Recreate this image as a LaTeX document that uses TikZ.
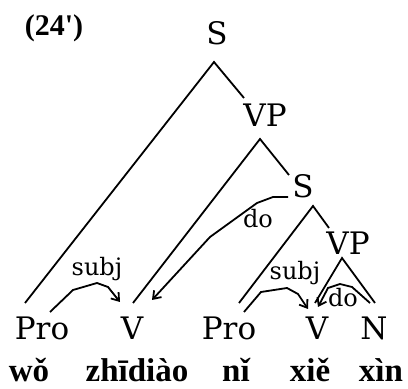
\documentclass[tikz,border=0pt]{standalone}
\usepackage{fontspec}
\setmainfont{DejaVu Serif}
\newfontfamily\pyfont{Liberation Serif}
\usetikzlibrary{arrows.meta}
\tikzset{
  every picture/.style={line width=1.8pt},
  cat/.style={font=\fontsize{31}{34}\selectfont, anchor=base, inner sep=0pt},
  rel/.style={font=\fontsize{24}{27}\selectfont, anchor=base, inner sep=0pt},
  py/.style={font=\pyfont\bfseries\fontsize{33}{36}\selectfont, anchor=base, inner sep=0pt},
  arr/.style={-{Straight Barb[length=7pt, width=10pt]}},
}

\begin{document}
\begin{tikzpicture}[x=1pt, y=1pt]
  \useasboundingbox (0,0) rectangle (408,389);
  \node[anchor=base, inner sep=0pt, font=\pyfont\bfseries\fontsize{30}{32}\selectfont] (num) at (54,353) {(24\textquotesingle)};
  % categories
  \node[cat] (s0) at (217,344) {S};
  \node[cat] (vp1) at (265,262) {VP};
  \node[cat] (s1) at (303,191) {S};
  \node[cat] (vp2) at (348,134) {VP};
  \node[cat] (pro1) at (42,49) {Pro};
  \node[cat] (v1) at (132,49) {V};
  \node[cat] (pro2) at (229,49) {Pro};
  \node[cat] (v2) at (317,49) {V};
  \node[cat] (n) at (374,49) {N};
  % words
  \node[py] (wo) at (29,7) {wǒ};
  \node[py] (zhidiao) at (137,7) {zhīdiào};
  \node[py] (ni) at (236,7) {nǐ};
  \node[py] (xie) at (310,7) {xiě};
  \node[py] (xin) at (381,7) {xìn};
  % branches
  \draw ([shift={(-17,37)}]pro1.base) -- ([shift={(-3,-17)}]s0.base) -- ([shift={(-21,29)}]vp1.base);
  \draw ([shift={(1,37)}]v1.base) -- ([shift={(-5,-12)}]vp1.base) -- ([shift={(-14,23)}]s1.base);
  \draw ([shift={(10,37)}]pro2.base) -- ([shift={(10,-8)}]s1.base) -- ([shift={(-19,27)}]vp2.base);
  \draw ([shift={(-2,37)}]v2.base) -- ([shift={(-6,-3)}]vp2.base) -- ([shift={(1,37)}]n.base);
  % relations
  \draw[arr] ([shift={(8,28)}]pro1.base) -- ++(23,22) -- ++(24,7) -- ++(11,-4) -- ([shift={(-12,38)}]v1.base);
  \node[rel] (subj1) at (97,113) {subj};
  \draw[arr] ([shift={(-15,1)}]s1.base) -- ++(-15,0) -- ++(-16,-6) -- ++(-47,-34) -- ([shift={(20,40)}]v1.base);
  \node[rel] (do1) at (258,161) {do};
  \draw[arr] ([shift={(15,28)}]pro2.base) -- ++(17,20) -- ++(26,4) -- ++(11,-6) -- ([shift={(-9,31)}]v2.base);
  \node[rel] (subj2) at (295,109) {subj};
  \draw[arr] ([shift={(-4,37)}]n.base) -- ++(-18,16) -- ++(-12,3) -- ++(-12,-4) -- ([shift={(1,33)}]v2.base);
  \node[rel] (do2) at (343,82) {do};
\end{tikzpicture}
\end{document}
